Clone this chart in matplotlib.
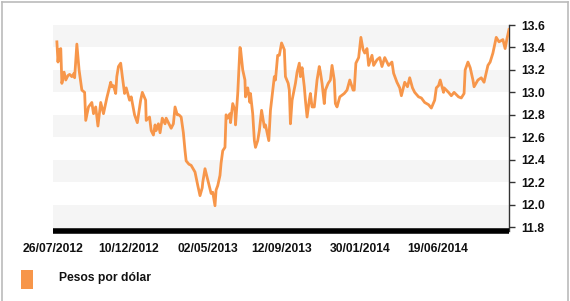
import matplotlib
matplotlib.use("Agg")
import matplotlib.pyplot as plt
import pandas as pd
import numpy as np
from matplotlib.lines import Line2D
from matplotlib.patches import Rectangle

# ---- data ----
start_date = "2012-07-26"
day_offsets = [7, 9, 11, 14, 16, 20, 23, 27, 30, 34, 38, 39, 43, 47, 52, 57, 59, 64, 70, 73,
               77, 81, 86, 91, 97, 104, 106, 109, 113, 115, 118, 122, 125, 129, 132, 138, 141, 147, 152, 158,
               161, 167, 168, 174, 177, 181, 184, 186, 190, 193, 197, 202, 204, 209, 213, 217, 220, 224, 227, 231,
               235, 238, 240, 245, 249, 256, 261, 265, 269, 270, 274, 279, 285, 288, 292, 294, 297, 301, 303, 306,
               310, 312, 315, 319, 320, 324, 328, 329, 333, 337, 338, 342, 346, 347, 351, 355, 356, 360, 363, 365,
               369, 372, 376, 381, 383, 389, 392, 399, 401, 405, 408, 412, 417, 419, 424, 426, 428, 431, 437, 440,
               444, 446, 449, 453, 455, 458, 462, 464, 467, 471, 476, 480, 482, 485, 489, 491, 496, 500, 503, 507,
               509, 512, 517, 525, 530, 535, 541, 543, 546, 551, 555, 559, 562, 566, 569, 575, 578, 584, 589, 593,
               598, 605, 611, 614, 620, 625, 628, 634, 639, 643, 648, 652, 659, 664, 670, 677, 682, 688, 691, 695,
               698, 704, 705, 713, 718, 723, 731, 736, 741, 743, 748, 752, 757, 759, 766, 772, 777, 784, 788, 793,
               799, 804, 811, 815, 818, 822]
pesos_por_dolar = [13.45, 13.27, 13.38, 13.39, 13.08, 13.18, 13.11, 13.15, 13.16, 13.14, 13.17, 13.13, 13.43, 13.20, 13.02, 13.00, 12.75, 12.87, 12.91, 12.81,
                   12.87, 12.70, 12.91, 12.81, 12.95, 13.09, 13.05, 13.06, 12.99, 13.14, 13.23, 13.26, 13.14, 12.99, 13.04, 12.93, 12.96, 12.80, 12.73, 12.93,
                   13.00, 12.93, 12.75, 12.78, 12.66, 12.62, 12.71, 12.66, 12.72, 12.64, 12.77, 12.72, 12.77, 12.72, 12.68, 12.72, 12.87, 12.80, 12.80, 12.78,
                   12.64, 12.48, 12.39, 12.36, 12.35, 12.29, 12.17, 12.08, 12.15, 12.20, 12.32, 12.22, 12.10, 12.11, 11.99, 12.13, 12.17, 12.26, 12.37, 12.48,
                   12.51, 12.80, 12.77, 12.81, 12.73, 12.90, 12.84, 12.71, 12.99, 13.40, 13.39, 13.20, 13.11, 12.96, 13.04, 12.91, 12.99, 12.81, 12.57, 12.51,
                   12.57, 12.66, 12.84, 12.69, 12.71, 12.57, 12.84, 13.14, 13.11, 13.33, 13.33, 13.44, 13.38, 13.14, 13.08, 13.02, 12.72, 12.93, 13.08, 13.18,
                   13.26, 13.14, 13.22, 13.05, 12.93, 12.78, 12.93, 12.99, 12.87, 12.87, 13.11, 13.23, 13.18, 13.08, 12.90, 13.02, 13.08, 13.11, 13.24, 13.11,
                   12.90, 12.87, 12.96, 12.99, 13.02, 13.11, 13.02, 13.02, 13.26, 13.31, 13.49, 13.38, 13.35, 13.39, 13.24, 13.33, 13.24, 13.29, 13.31, 13.23,
                   13.31, 13.24, 13.27, 13.17, 13.09, 13.04, 12.97, 13.09, 13.05, 13.13, 13.04, 13.00, 12.96, 12.95, 12.91, 12.89, 12.86, 12.93, 13.04, 13.06,
                   13.11, 13.00, 13.04, 13.00, 12.97, 13.00, 12.96, 12.95, 12.99, 13.20, 13.27, 13.22, 13.11, 13.05, 13.11, 13.13, 13.09, 13.24, 13.27, 13.35,
                   13.49, 13.45, 13.47, 13.39, 13.47, 13.56]
tick_dates = ["2012-07-26", "2012-12-10", "2013-05-02", "2013-09-12", "2014-01-30", "2014-06-19"]
tick_labels = ["26/07/2012", "10/12/2012", "02/05/2013", "12/09/2013", "30/01/2014", "19/06/2014"]
y_ticks = [11.8, 12.0, 12.2, 12.4, 12.6, 12.8, 13.0, 13.2, 13.4, 13.6]
series_name = "Pesos por dólar"

# ---- plot ----
plt.rcParams['font.family'] = ['Liberation Sans', 'DejaVu Sans']
color = "#f7964a"

dates = pd.Timestamp(start_date) + pd.to_timedelta(day_offsets, unit="D")

fig = plt.figure(figsize=(5.70, 3.01), dpi=100)
ax = fig.add_axes([53/570, 1 - 231/301, (509 - 53)/570, (231 - 25)/301])

# alternating bands
for lo in y_ticks[:-1:2]:
    ax.axhspan(lo, lo + 0.2, color="#f5f5f5", lw=0, zorder=0)
ax.axhspan(11.765, 11.8, color="#f5f5f5", lw=0, zorder=0)

ax.plot(dates, pesos_por_dolar, color=color, lw=2.0, solid_joinstyle="round", zorder=3)

ax.set_ylim(11.765, 13.6)
ax.set_xlim(dates[0], dates[-1])

ax.yaxis.tick_right()
ax.set_yticks(y_ticks)
ax.set_yticklabels([f"{v:.1f}" for v in y_ticks], fontsize=8.7, fontweight="bold", color="#111111")
ax.tick_params(axis="y", direction="out", length=4, width=1, color="#333333", pad=5)

ax.set_xticks(pd.to_datetime(tick_dates))
ax.set_xticklabels(tick_labels, fontsize=8.7, fontweight="bold", color="#111111")
ax.tick_params(axis="x", length=0, pad=9)

for s in ["top", "left"]:
    ax.spines[s].set_visible(False)
ax.spines["right"].set_color("#333333")
ax.spines["right"].set_linewidth(1.0)
ax.spines["bottom"].set_color("black")
ax.spines["bottom"].set_linewidth(4)
ax.spines["bottom"].set_capstyle("butt")

# legend
fig.patches.append(Rectangle((21/570, 1 - 289/301), 12/570, 19/301, transform=fig.transFigure,
                             facecolor=color, edgecolor="none"))
fig.text(59/570, 1 - 278/301, series_name, fontsize=8.7, fontweight="bold", color="#111111",
         va="center", ha="left")

# figure border (left, top, right)
bc = "#bbbbbb"
fig.lines.append(Line2D([1.5/570, 1.5/570], [0, 1 - 1.5/301], transform=fig.transFigure, color=bc, lw=1.2))
fig.lines.append(Line2D([1.5/570, 568/570], [1 - 1.5/301, 1 - 1.5/301], transform=fig.transFigure, color=bc, lw=1.2))
fig.lines.append(Line2D([568/570, 568/570], [0, 1 - 1.5/301], transform=fig.transFigure, color=bc, lw=1.2))

fig.savefig("out.png", dpi=100)
